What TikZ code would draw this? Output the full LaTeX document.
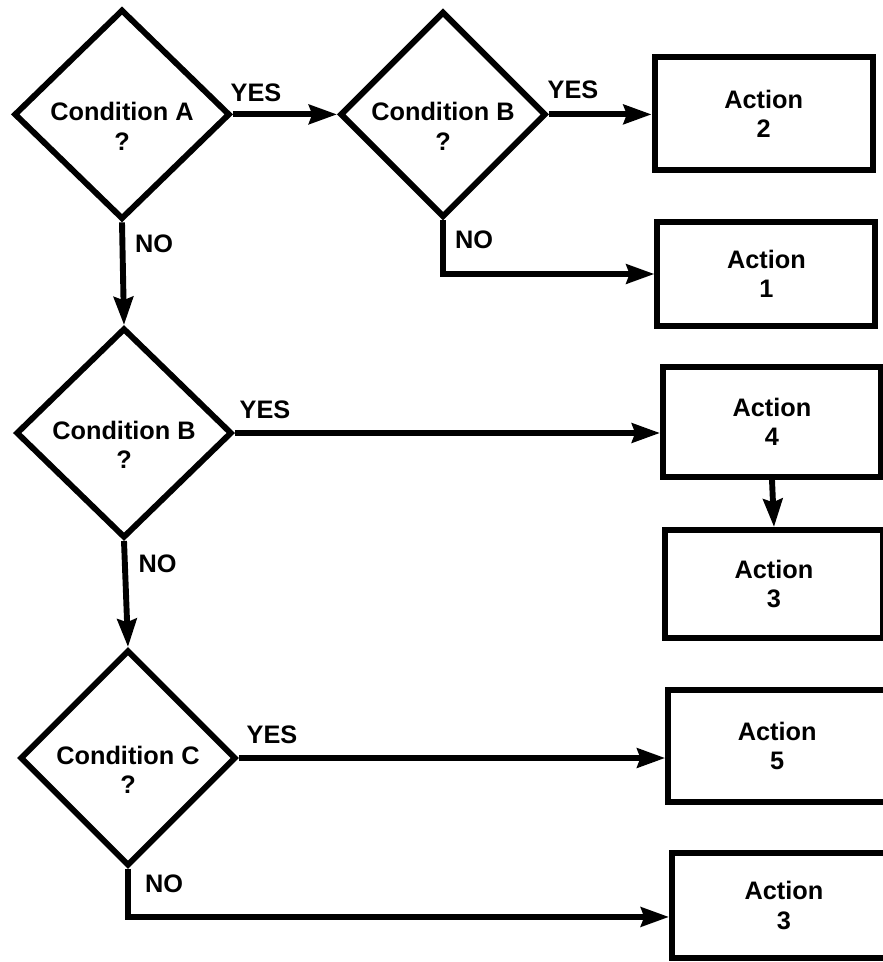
\documentclass[tikz,border=0pt]{standalone}
\usepackage{fontspec}
\setmainfont{Liberation Sans}
\usetikzlibrary{shapes.geometric,arrows.meta,calc}

\begin{document}
\begin{tikzpicture}[
    font=\fontsize{18}{21}\selectfont\bfseries,
    % Estilos de los nodos
    cond/.style={diamond, draw, line width=4.2pt, inner sep=0pt,
                 minimum width=5.4cm, minimum height=5.25cm},
    ctext/.style={align=center, yshift=-0.3cm},
    act/.style={rectangle, draw, line width=4.2pt, align=center,
                minimum width=5.45cm, minimum height=2.7cm},
    lbl/.style={inner sep=0pt},
    % Estilos de conectores
    flow/.style={line width=4.2pt, -{Stealth[length=0.7cm, width=0.48cm, inset=0.08cm]}}
]
\useasboundingbox (0,0) rectangle (22.05,-24.05);

% ==========================================
% CONDICIONES
% ==========================================
\node[cond, label={[ctext]center:Condition A\\?}] (condA) at (3.05,-2.86) {};
\node[cond, minimum width=5.15cm, minimum height=5.15cm,
      label={[ctext]center:Condition B\\?}] (condB) at (11.075,-2.86) {};
\node[cond, label={[ctext]center:Condition B\\?}] (condBb) at (3.1,-10.825) {};
\node[cond, minimum height=5.4cm, label={[ctext]center:Condition C\\?}] (condC) at (3.2,-18.95) {};

% ==========================================
% ACCIONES
% ==========================================
\node[act, minimum height=2.825cm] (act2) at (19.09,-2.84) {Action\\2};
\node[act, minimum height=2.6cm] (act1) at (19.16,-6.85) {Action\\1};
\node[act, minimum height=2.75cm] (act4) at (19.3,-10.55) {Action\\4};
\node[act] (act3a) at (19.35,-14.6) {Action\\3};
\node[act, minimum height=2.8cm] (act5) at (19.43,-18.65) {Action\\5};
\node[act, minimum width=5.6cm, minimum height=2.63cm] (act3b) at (19.6,-22.64) {Action\\3};

% ==========================================
% ETIQUETAS YES / NO
% ==========================================
\node[lbl] (yesA) at (6.4,-2.31) {YES};
\node[lbl] (yesB) at (14.325,-2.25) {YES};
\node[lbl] (yesBb) at (6.625,-10.25) {YES};
\node[lbl] (yesC) at (6.8,-18.375) {YES};
\node[lbl] (noA) at (3.85,-6.1) {NO};
\node[lbl] (noB) at (11.85,-6.0) {NO};
\node[lbl] (noBb) at (3.94,-14.1) {NO};
\node[lbl] (noC) at (4.1,-22.1) {NO};

% ==========================================
% CONECTORES
% ==========================================
\draw[flow] (condA.east) -- (condB.west);
\draw[flow] (condB.east) -- (condB.east -| act2.west);
\draw[flow] (condB.south) |- (act1.west);
\draw[flow] (condA.south) -- (condBb.north);
\draw[flow] (condBb.east) -- (condBb.east -| act4.west);
\draw[flow] (act4.south) -- (act3a.north);
\draw[flow] (condBb.south) -- (condC.north);
\draw[flow] (condC.east) -- (condC.east -| act5.west);
\coordinate (cornerC) at ($(condC.south)+(0,-1.2)$);
\draw[flow] (condC.south) -- (cornerC) -- (cornerC -| act3b.west);

\end{tikzpicture}
\end{document}
